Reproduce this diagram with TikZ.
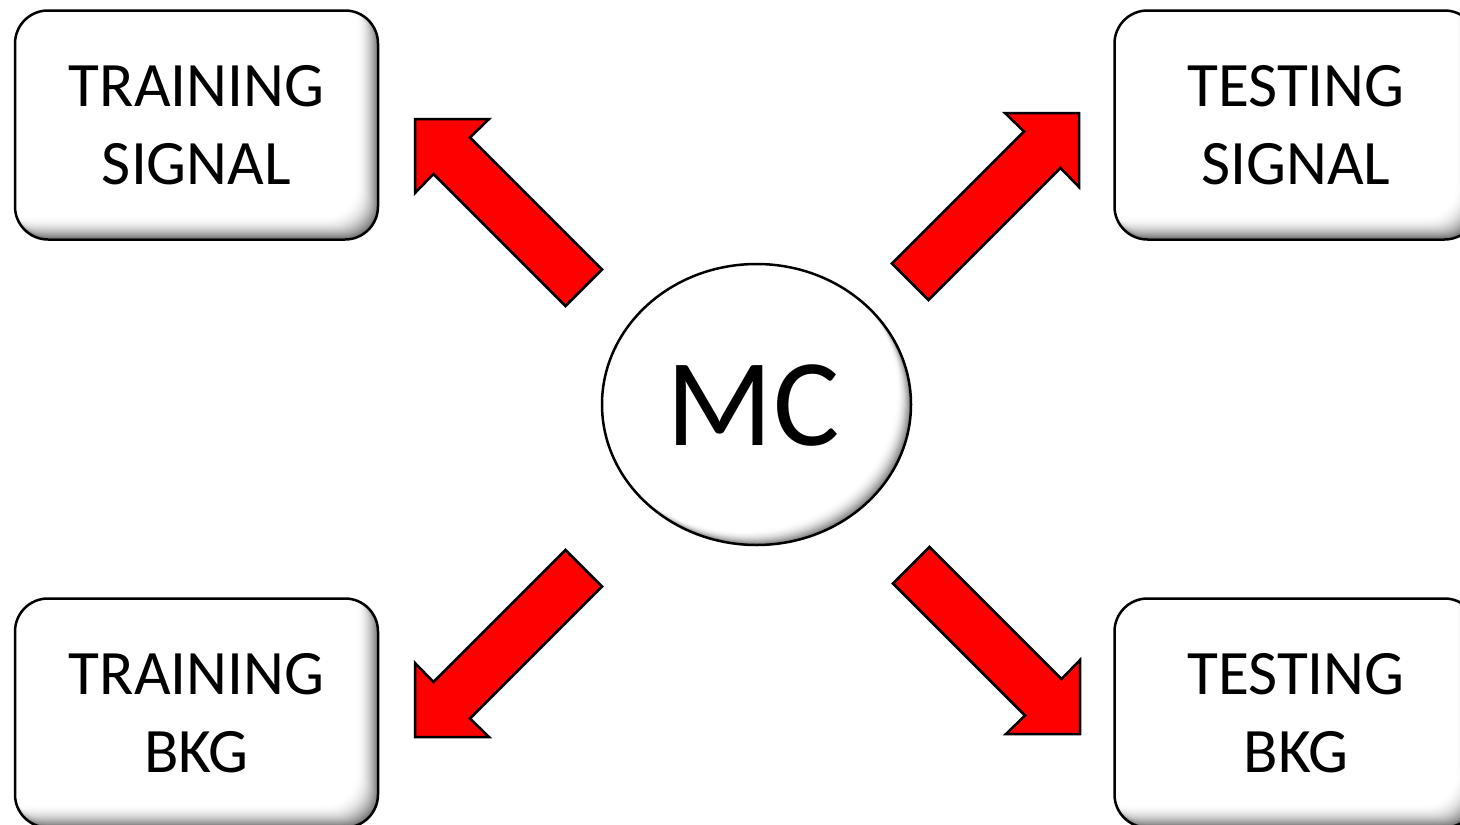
\documentclass[tikz,border=0pt]{standalone}
\usepackage{fontspec}
\setmainfont{Carlito}
\usetikzlibrary{shapes.geometric}
\newcommand\myinnershade[3][]{%
  \begin{scope}
    \clip[#1] #2;
    \foreach \d in {0,...,#3}{%
      \pgfmathsetmacro\c{52*(1-\d/#3)^2}%
      \fill[black!\c, #1, shift={(-\d,-\d)}] #2;
    }
  \end{scope}}
\tikzset{
  box/.style={draw=black, line width=2.5pt, rounded corners=33pt,
    minimum width=363pt, minimum height=229pt, inner sep=0pt,
    align=center, font=\fontsize{63.3}{78}\selectfont},
  mcnode/.style={ellipse, draw=black, line width=2.5pt,
    minimum width=309pt, minimum height=281pt, inner sep=0pt},
  arrowstyle/.style={fill=red, draw=black, line width=2.5pt, line join=miter},
  bigarrow/.pic={\draw[arrowstyle] (0,0) -- (74,0) -- (55,18.5) -- (187,150.5)
     -- (150.5,187) -- (18.5,55) -- (0,74) -- cycle;}
}
\begin{document}
\begin{tikzpicture}[x=1pt,y=-1pt]
\useasboundingbox (0,0) rectangle (1460,825);
\clip (0,0) rectangle (1460,825);
\fill[white] (0,0) rectangle (1460,825);
% box shading
\foreach \cx/\cy in {196.5/124, 1296/124, 196.5/712, 1296/712}{
  \myinnershade[rounded corners=33pt]{(\cx-181.5,\cy-114.5) rectangle (\cx+181.5,\cy+114.5)}{22}
}
\myinnershade{(756.5,404.5) ellipse [x radius=154.5, y radius=140.5]}{14}
% nodes
\node[box] (trs) at (196.5,125) {TRAINING\\SIGNAL};
\node[box] (tes) at (1296,125) {TESTING\\SIGNAL};
\node[box] (trb) at (196.5,713) {TRAINING\\BKG};
\node[box] (teb) at (1296,713) {TESTING\\BKG};
\node[mcnode] (mc) at (756.5,404.5) {};
\node[font=\fontsize{124.5}{124.5}\selectfont, inner sep=0pt] (mctext) at (753,406) {MC};
% arrows
\coordinate (a1) at (415,119);
\coordinate (a2) at (1079,113);
\coordinate (a3) at (415,737);
\coordinate (a4) at (1080,734);
\path (a1) pic {bigarrow};
\path (a2) pic[xscale=-1] {bigarrow};
\path (a3) pic[yscale=-1] {bigarrow};
\path (a4) pic[xscale=-1,yscale=-1] {bigarrow};
\end{tikzpicture}
\end{document}
